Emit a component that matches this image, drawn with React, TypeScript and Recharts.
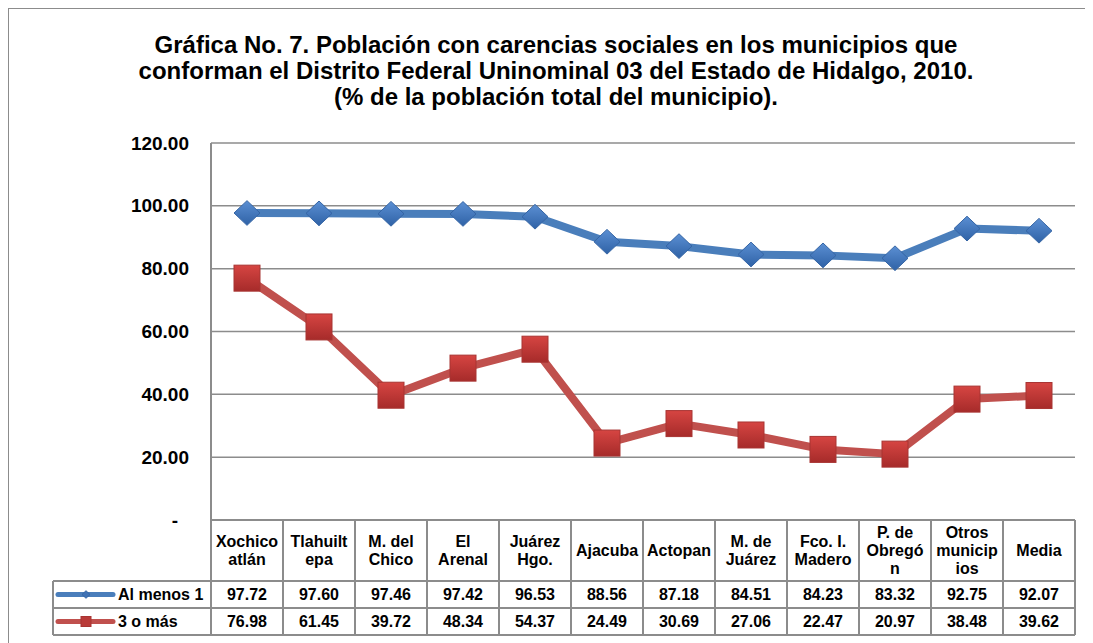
import { LineChart, Line, XAxis, YAxis, CartesianGrid } from 'recharts'

const categories = [
  'Xochico\natlán',
  'Tlahuilt\nepa',
  'M. del\nChico',
  'El\nArenal',
  'Juárez\nHgo.',
  'Ajacuba',
  'Actopan',
  'M. de\nJuárez',
  'Fco. I.\nMadero',
  'P. de\nObregó\nn',
  'Otros\nmunicip\nios',
  'Media',
]
const alMenos1 = [97.72, 97.6, 97.46, 97.42, 96.53, 88.56, 87.18, 84.51, 84.23, 83.32, 92.75, 92.07]
const tresOMas = [76.98, 61.45, 39.72, 48.34, 54.37, 24.49, 30.69, 27.06, 22.47, 20.97, 38.48, 39.62]
const seriesNames = ['Al menos 1', '3 o más']
const yTicks = [0, 20, 40, 60, 80, 100, 120]

const title = [
  'Gráfica No. 7. Población con carencias sociales en los municipios que',
  'conforman el Distrito Federal Uninominal 03 del Estado de Hidalgo, 2010.',
  '(% de la población total del municipio).',
]

const data = categories.map((name, i) => ({ name, a: alMenos1[i], b: tresOMas[i] }))

const FONT = 'Arial, "Liberation Sans", sans-serif'
const BLUE = '#4a7ebb'
const RED = '#c0504d'
const BORDER = '#8c8c8c'

const W = 1084
const H = 634
const PLOT_LEFT = 202
const PLOT_RIGHT = 1066
const CELL = (PLOT_RIGHT - PLOT_LEFT) / categories.length
const LEGEND_W = 158

function Diamond({ cx, cy, r = 13, legend = false }: any) {
  if (cx == null || cy == null) return null
  const h = r
  const v = r * 0.95
  return (
    <path
      d={`M${cx},${cy - v} L${cx + h},${cy} L${cx},${cy + v} L${cx - h},${cy} Z`}
      fill={legend ? '#3f72b5' : 'url(#gBlue)'}
      stroke='#3565a5'
      strokeWidth={1}
    />
  )
}

function Square({ cx, cy, s = 13, legend = false }: any) {
  if (cx == null || cy == null) return null
  return (
    <rect
      x={cx - s}
      y={cy - s}
      width={s * 2}
      height={s * 2}
      fill={legend ? '#b93a38' : 'url(#gRed)'}
      stroke='#a83432'
      strokeWidth={1}
    />
  )
}

function YTick({ x, y, payload }: any) {
  const v = payload.value as number
  return (
    <text
      x={v === 0 ? x - 11 : x}
      y={y}
      dy='0.35em'
      textAnchor='end'
      fontFamily={FONT}
      fontWeight='bold'
      fontSize={19}
      fill='#000'
    >
      {v === 0 ? '-' : v.toFixed(2)}
    </text>
  )
}

function TableTick({ x, y, payload, index }: any) {
  const t = y
  const r1 = t + 61
  const r2 = t + 88
  const r3 = t + 115
  const left = x - CELL / 2
  const right = x + CELL / 2
  const lines = String(payload.value).split('\n')
  const mid = t + 30.5
  const txt = { fontFamily: FONT, fontWeight: 'bold' as const, fontSize: 16, fill: '#000', textAnchor: 'middle' as const }
  return (
    <g>
      <line x1={left} x2={right} y1={t} y2={t} stroke={BORDER} strokeWidth={2} />
      <line x1={left} x2={right} y1={r1} y2={r1} stroke={BORDER} strokeWidth={2} />
      <line x1={left} x2={right} y1={r2} y2={r2} stroke={BORDER} strokeWidth={2} />
      <line x1={left} x2={right} y1={r3} y2={r3} stroke={BORDER} strokeWidth={2} />
      <line x1={left} x2={left} y1={t} y2={r3} stroke={BORDER} strokeWidth={2} />
      <line x1={right} x2={right} y1={t} y2={r3} stroke={BORDER} strokeWidth={2} />
      {lines.map((ln, i) => (
        <text key={i} x={x} y={mid + (i - (lines.length - 1) / 2) * 18} dy='0.35em' {...txt}>
          {ln}
        </text>
      ))}
      <text x={x} y={(r1 + r2) / 2} dy='0.35em' {...txt}>
        {alMenos1[index].toFixed(2)}
      </text>
      <text x={x} y={(r2 + r3) / 2} dy='0.35em' {...txt}>
        {tresOMas[index].toFixed(2)}
      </text>
      {index === 0 && (
        <g>
          <line x1={left - LEGEND_W} x2={left} y1={r1} y2={r1} stroke={BORDER} strokeWidth={2} />
          <line x1={left - LEGEND_W} x2={left} y1={r2} y2={r2} stroke={BORDER} strokeWidth={2} />
          <line x1={left - LEGEND_W} x2={left} y1={r3} y2={r3} stroke={BORDER} strokeWidth={2} />
          <line x1={left - LEGEND_W} x2={left - LEGEND_W} y1={r1} y2={r3} stroke={BORDER} strokeWidth={2} />
          <line
            x1={left - LEGEND_W + 5}
            x2={left - LEGEND_W + 60}
            y1={(r1 + r2) / 2}
            y2={(r1 + r2) / 2}
            stroke={BLUE}
            strokeWidth={5}
            strokeLinecap='round'
          />
          <Diamond cx={left - LEGEND_W + 33} cy={(r1 + r2) / 2} r={4} legend />
          <line
            x1={left - LEGEND_W + 5}
            x2={left - LEGEND_W + 60}
            y1={(r2 + r3) / 2}
            y2={(r2 + r3) / 2}
            stroke={RED}
            strokeWidth={5}
            strokeLinecap='round'
          />
          <Square cx={left - LEGEND_W + 33} cy={(r2 + r3) / 2} s={5} legend />
          <text x={left - LEGEND_W + 65} y={(r1 + r2) / 2} dy='0.35em' {...txt} textAnchor='start'>
            {seriesNames[0]}
          </text>
          <text x={left - LEGEND_W + 65} y={(r2 + r3) / 2} dy='0.35em' {...txt} textAnchor='start'>
            {seriesNames[1]}
          </text>
        </g>
      )}
    </g>
  )
}

export default function App() {
  return (
    <div
      style={{
        position: 'relative',
        width: W + 4,
        height: H,
        borderTop: `1px solid ${BORDER}`,
        borderLeft: `1px solid ${BORDER}`,
        background: '#fff',
        overflow: 'hidden',
      }}
    >
      <div
        style={{
          position: 'absolute',
          left: 0,
          top: 23,
          width: 1094,
          textAlign: 'center',
          fontFamily: FONT,
          fontWeight: 'bold',
          fontSize: 24,
          lineHeight: '26px',
          color: '#000',
        }}
      >
        {title.map((t, i) => (
          <div key={i}>{t}</div>
        ))}
      </div>
      <LineChart width={W} height={H} data={data} margin={{ top: 134, right: W - PLOT_RIGHT, left: 0, bottom: 0 }}>
        <defs>
          <linearGradient id='gBlue' x1='0' x2='0' y1='0' y2='1'>
            <stop offset='0%' stopColor='#5b8fd3' />
            <stop offset='100%' stopColor='#2f62a6' />
          </linearGradient>
          <linearGradient id='gRed' x1='0' x2='0' y1='0' y2='1'>
            <stop offset='0%' stopColor='#d64542' />
            <stop offset='100%' stopColor='#a62b2a' />
          </linearGradient>
        </defs>
        <CartesianGrid vertical={false} stroke={BORDER} strokeWidth={1.5} />
        <XAxis
          dataKey='name'
          height={H - 511}
          interval={0}
          padding={{ left: CELL / 2, right: CELL / 2 }}
          axisLine={false}
          tickLine={false}
          tickSize={0}
          tickMargin={0}
          tick={<TableTick />}
        />
        <YAxis
          width={PLOT_LEFT}
          domain={[0, 120]}
          ticks={yTicks}
          axisLine={{ stroke: BORDER, strokeWidth: 2 }}
          tickLine={false}
          tickSize={0}
          tickMargin={22}
          tick={<YTick />}
        />
        <Line
          dataKey='a'
          name={seriesNames[0]}
          stroke={BLUE}
          strokeWidth={8}
          strokeLinejoin='round'
          dot={(p: any) => <Diamond key={`d${p.index}`} cx={p.cx} cy={p.cy} />}
          isAnimationActive={false}
        />
        <Line
          dataKey='b'
          name={seriesNames[1]}
          stroke={RED}
          strokeWidth={8}
          strokeLinejoin='round'
          dot={(p: any) => <Square key={`s${p.index}`} cx={p.cx} cy={p.cy} />}
          isAnimationActive={false}
        />
      </LineChart>
    </div>
  )
}
